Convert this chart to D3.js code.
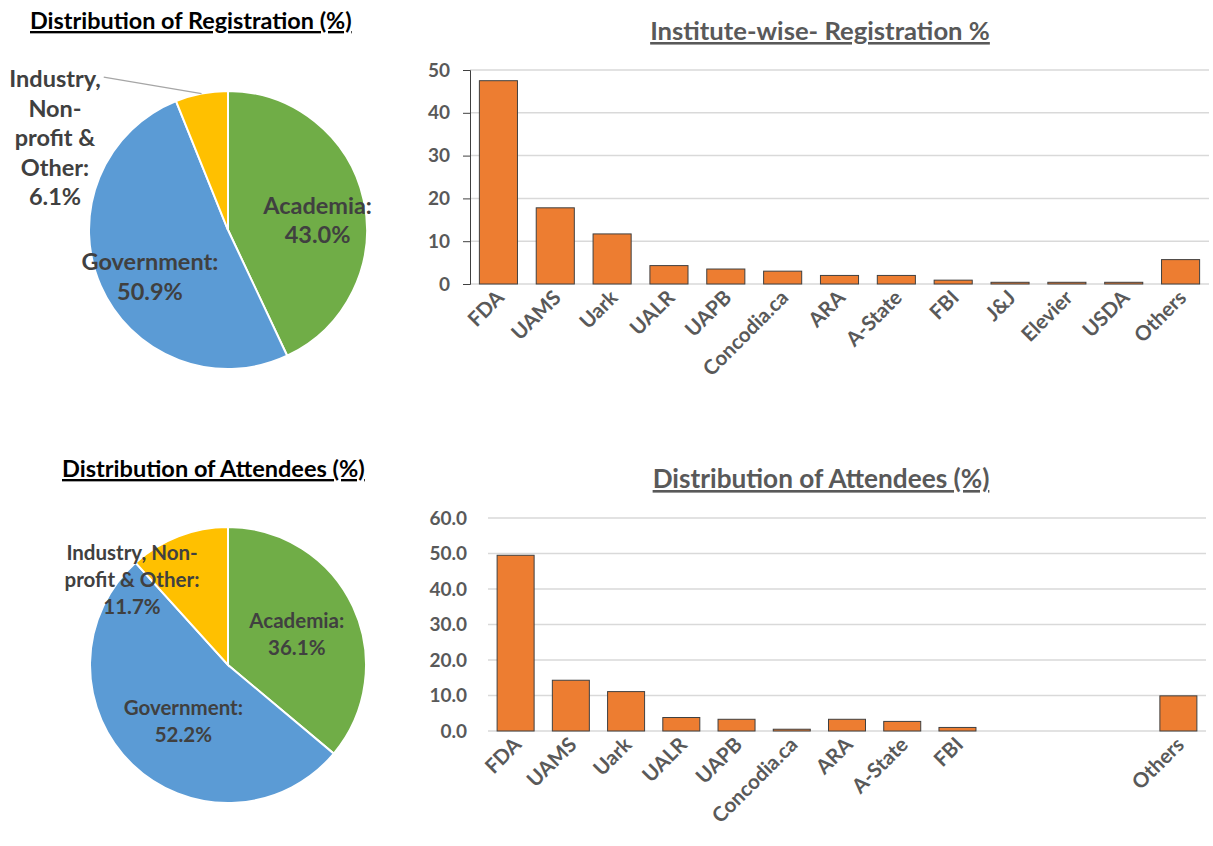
<!DOCTYPE html>
<html><head><meta charset="utf-8">
<script src="https://cdn.jsdelivr.net/npm/d3@7"></script>
<style>
body{margin:0;background:#fff}
text{font-family:Lato,"Open Sans","DejaVu Sans",sans-serif;font-weight:700}
</style>
</head><body>
<svg id="c" width="1213" height="846"></svg>
<script>
// ---------- data ----------
const institutes = ["FDA","UAMS","Uark","UALR","UAPB","Concodia.ca","ARA","A-State","FBI","J&J","Elevier","USDA","Others"];
const registrationPct = [47.5,17.8,11.7,4.3,3.5,3.0,2.0,2.0,0.9,0.4,0.4,0.4,5.7];
const attendeePct = [49.5,14.3,11.1,3.8,3.3,0.5,3.3,2.7,1.0,0,0,0,9.9];
const registrationTickLabels = ["FDA","UAMS","Uark","UALR","UAPB","Concodia.ca","ARA","A-State","FBI","J&J","Elevier","USDA","Others"];
const attendeeTickLabels = ["FDA","UAMS","Uark","UALR","UAPB","Concodia.ca","ARA","A-State","FBI","","","","Others"];
const registrationYTicks = [0,10,20,30,40,50];
const attendeeYTicks = [0,10,20,30,40,50,60];
const sectors = ["Academia","Government","Industry, Non-profit & Other"];
const registrationShare = [43.0,50.9,6.1];
const attendeeShare = [36.1,52.2,11.7];
const sectorColors = ["#70AD47","#5B9BD5","#FFC000"];

// ---------- helpers ----------
const svg = d3.select("#c");
function fitText(t, w){
  const s = parseFloat(t.attr("font-size"));
  const l = t.node().getComputedTextLength();
  t.attr("font-size", s*w/l);
}
function title(txt, x, y, w, color, anchor){
  const t = svg.append("text").attr("x",x).attr("y",y).attr("font-size",20)
    .attr("fill",color).attr("text-anchor",anchor).style("text-decoration","underline").text(txt);
  fitText(t,w);
  return t;
}

// ---------- bar charts ----------
function barChart(o){
  const g = svg.append("g");
  const x = d3.scaleBand().domain(d3.range(o.values.length)).range([o.x0,o.x1]).paddingInner(0.33).paddingOuter(0.165);
  const y = d3.scaleLinear().domain([0,o.max]).range([o.yBase,o.yTop]);
  g.selectAll("line.grid").data(o.ticks).join("line")
    .attr("x1",o.x0).attr("x2",o.x1).attr("y1",d=>y(d)).attr("y2",d=>y(d))
    .attr("stroke","#D9D9D9").attr("stroke-width",1.5);
  const ax = d3.axisLeft(y).tickValues(o.ticks).tickFormat(o.fmt).tickSize(o.axisLine?7:0).tickPadding(o.pad);
  const ag = g.append("g").attr("transform",`translate(${o.x0},0)`).call(ax);
  ag.select(".domain").attr("stroke",o.axisLine?"#404040":"none");
  ag.selectAll(".tick line").attr("stroke","#404040");
  ag.selectAll("text").attr("font-size",19).attr("fill","#595959")
    .attr("font-family",'Lato,"Open Sans",sans-serif').attr("font-weight",700);
  g.selectAll("rect.bar").data(o.values).join("rect")
    .attr("x",(d,i)=>x(i)).attr("width",x.bandwidth())
    .attr("y",d=>y(d)).attr("height",d=>o.yBase-y(d))
    .attr("fill","#ED7D31").attr("stroke","#404040").attr("stroke-width",1);
  g.selectAll("text.xl").data(o.labels).join("text")
    .attr("transform",(d,i)=>`translate(${x(i)+x.bandwidth()/2+7},${o.yBase+15}) rotate(-45)`)
    .attr("text-anchor","end").attr("font-size",20.5).attr("fill","#595959").text(d=>d);
}

barChart({values:registrationPct, labels:registrationTickLabels, ticks:registrationYTicks,
  fmt:d3.format("d"), x0:470, x1:1209, yBase:284, yTop:70, max:50, axisLine:true, pad:13});
barChart({values:attendeePct, labels:attendeeTickLabels, ticks:attendeeYTicks,
  fmt:d3.format(".1f"), x0:488, x1:1206, yBase:731, yTop:518, max:60, axisLine:false, pad:21});

title("Institute-wise- Registration %", 820, 40, 340, "#595959", "middle");
title("Distribution of Attendees (%)", 821, 488, 337, "#595959", "middle");
title("Distribution of Registration (%)", 30, 29, 322, "#000", "start");
title("Distribution of Attendees (%)", 62, 477, 303, "#000", "start");

// ---------- pies ----------
function pieChart(o){
  const g = svg.append("g").attr("transform",`translate(${o.cx},${o.cy})`);
  const arcs = d3.pie().sort(null).value(d=>d)(o.values);
  const arc = d3.arc().innerRadius(0).outerRadius(o.r);
  const lab = d3.arc().innerRadius(o.r*o.lr).outerRadius(o.r*o.lr);
  g.selectAll("path").data(arcs).join("path").attr("d",arc)
    .attr("fill",(d,i)=>sectorColors[i]).attr("stroke","#fff").attr("stroke-width",2);
  const fmt = d3.format(".1f");
  arcs.forEach((a,i)=>{
    let lines, cx, cy;
    if(i<2){
      const c = lab.centroid(a);
      lines = [sectors[i]+":", fmt(o.values[i])+"%"];
      cx = c[0]+(o.dx?o.dx[i]:0); cy = c[1]+o.dy;
    } else {
      lines = o.otherLines.concat([fmt(o.values[i])+"%"]);
      cx = o.otherPos[0]; cy = o.otherPos[1];
    }
    const n = lines.length;
    const t = g.append("text").attr("text-anchor","middle").attr("font-size",o.fs).attr("fill","#404040");
    lines.forEach((l,k)=>{
      t.append("tspan").attr("x",cx).attr("y",cy+(k-(n-1)/2)*o.lh+o.fs*0.36).text(l);
    });
    if(i===2 && o.leader){
      const m = (a.startAngle+a.endAngle)/2;
      const px = Math.sin(m)*o.r, py = -Math.cos(m)*o.r;
      const first = t.select("tspan").node().getBBox();
      g.append("line").attr("x1",first.x+first.width+3).attr("y1",first.y+first.height*0.45)
        .attr("x2",px).attr("y2",py).attr("stroke","#A6A6A6").attr("stroke-width",1.2);
    }
  });
}
pieChart({cx:228, cy:230, r:139, values:registrationShare, lr:0.66, dy:10, dx:[0,6], fs:23.5, lh:29.5,
  otherLines:["Industry,","Non-","profit &","Other:"], otherPos:[-173,-92], leader:true});
pieChart({cx:228, cy:665, r:138, values:attendeeShare, lr:0.55, dy:1, dx:[0,8], fs:20.5, lh:27,
  otherLines:["Industry, Non-","profit & Other:"], otherPos:[-96,-85], leader:false});
</script>
</body></html>
